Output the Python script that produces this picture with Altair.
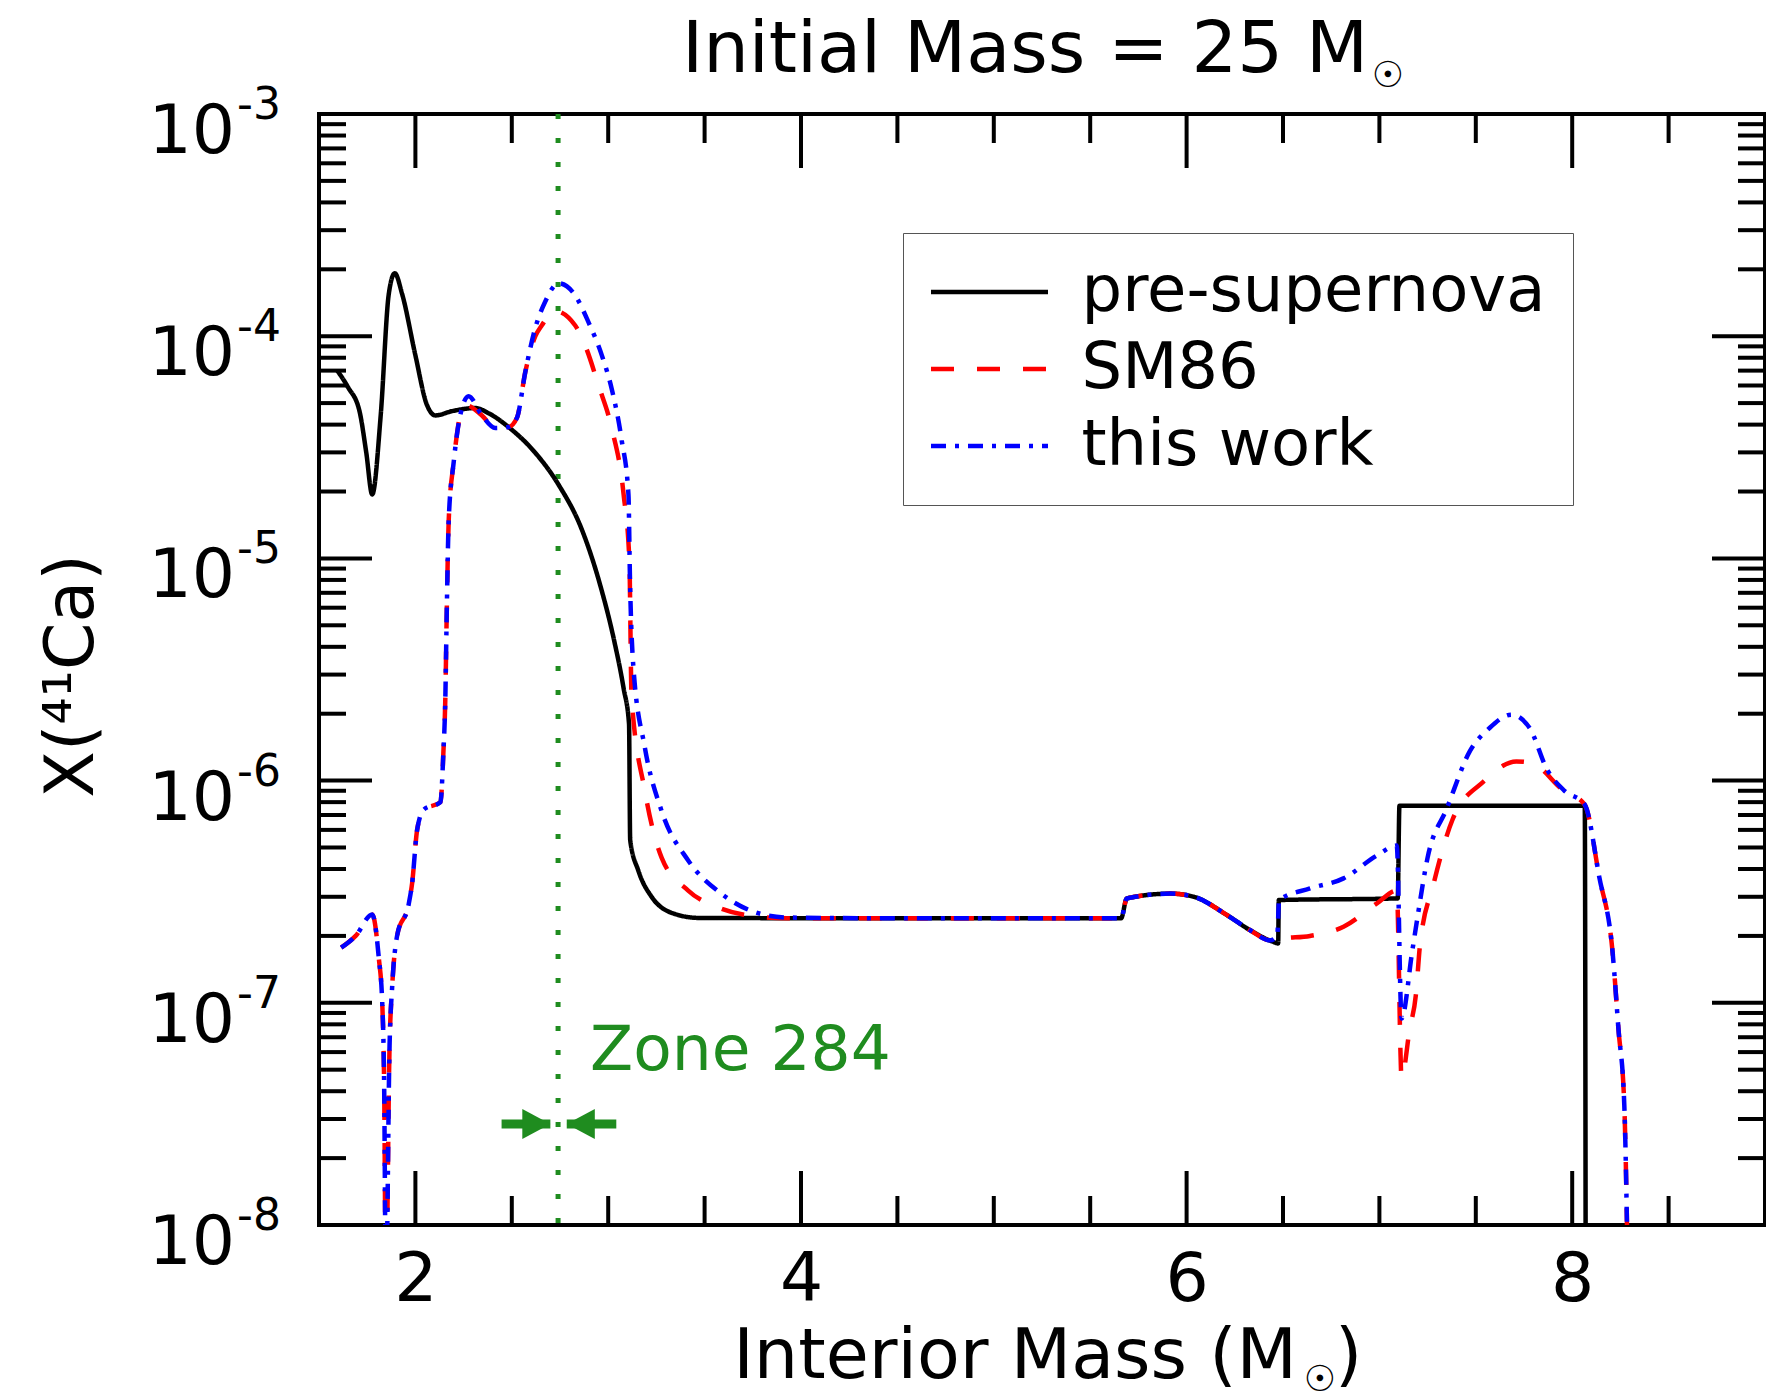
import altair as alt
import pandas as pd

# ---------------- data ----------------
series_names = ["pre-supernova", "SM86", "this work"]
series_colors = ["#000000", "#ff0000", "#0000ff"]
series_dashes = [[1, 0], [23, 23], [15, 9, 4, 9]]

pre_x = [1.595, 1.65, 1.71, 1.745, 1.776, 1.82, 1.862, 1.893, 1.931, 2.0, 2.06, 2.104, 2.19,
         2.31, 2.38, 2.483, 2.62, 2.742, 2.863, 2.96, 3.03, 3.08, 3.108, 3.114, 3.156, 3.225,
         3.346, 3.47, 4.5, 5.66, 5.69, 5.917, 6.038, 6.21, 6.33, 6.45, 6.475, 6.478, 7.095,
         7.104, 8.065, 8.072]
pre_y = [7.0e-5, 5.9e-5, 4.6e-5, 3.0e-5, 1.94e-5, 4.4e-5, 1.55e-4, 1.92e-4, 1.55e-4, 8.2e-5,
         4.9e-5, 4.4e-5, 4.6e-5, 4.75e-5, 4.5e-5, 3.9e-5, 3.0e-5, 2.15e-5, 1.35e-5, 7.5e-6,
         4.3e-6, 2.6e-6, 1.8e-6, 5.4e-7, 3.94e-7, 3.0e-7, 2.51e-7, 2.41e-7, 2.4e-7, 2.4e-7,
         2.95e-7, 3.1e-7, 3.0e-7, 2.48e-7, 2.12e-7, 1.88e-7, 1.85e-7, 2.9e-7, 2.95e-7, 7.7e-7,
         7.7e-7, 1e-10]

sm_x = [1.615, 1.69, 1.776, 1.81, 1.828, 1.838, 1.847, 1.866, 1.88, 1.905, 1.966, 1.983, 2.009,
        2.043, 2.13, 2.145, 2.155, 2.163, 2.173, 2.199, 2.233, 2.26, 2.345, 2.414, 2.483, 2.527,
        2.57, 2.622, 2.656, 2.72, 2.828, 2.88, 2.95, 3.018, 3.08, 3.11, 3.121, 3.19, 3.277,
        3.415, 3.587, 3.76, 3.93, 4.5, 5.66, 5.69, 5.917, 6.038, 6.21, 6.33, 6.434, 6.5, 6.64,
        6.814, 6.987, 7.09, 7.115, 7.157, 7.19, 7.21, 7.28, 7.38, 7.54, 7.71, 7.79, 7.95, 8.065,
        8.14, 8.21, 8.24, 8.27, 8.29]
sm_y = [1.77e-7, 2.0e-7, 2.5e-7, 1.6e-7, 1.0e-7, 4.2e-8, 5e-9, 6.4e-8, 1.2e-7, 2.0e-7, 2.8e-7,
        3.45e-7, 6.0e-7, 7.4e-7, 8.0e-7, 1.33e-6, 2.3e-6, 6.0e-6, 1.5e-5, 2.73e-5, 4.43e-5,
        4.9e-5, 4.4e-5, 3.86e-5, 3.9e-5, 4.3e-5, 6.9e-5, 1.0e-4, 1.12e-4, 1.3e-4, 1.12e-4,
        9.1e-5, 6.0e-5, 3.86e-5, 1.94e-5, 9.7e-6, 2.4e-6, 9.0e-7, 4.5e-7, 3.2e-7, 2.65e-7,
        2.45e-7, 2.4e-7, 2.4e-7, 2.4e-7, 2.95e-7, 3.1e-7, 3.0e-7, 2.48e-7, 2.12e-7, 1.91e-7,
        1.95e-7, 2.0e-7, 2.2e-7, 2.8e-7, 3.2e-7, 4.6e-8, 7.6e-8, 1.1e-7, 1.8e-7, 3.4e-7,
        6.7e-7, 9.9e-7, 1.22e-6, 1.2e-6, 9.1e-7, 7.8e-7, 3.7e-7, 1.67e-7, 7.6e-8, 3.5e-8, 5e-9]

tw_x = [1.615, 1.69, 1.776, 1.81, 1.828, 1.838, 1.847, 1.866, 1.88, 1.905, 1.966, 1.983, 2.009,
        2.043, 2.13, 2.145, 2.155, 2.163, 2.173, 2.199, 2.233, 2.276, 2.345, 2.414, 2.483, 2.527,
        2.57, 2.622, 2.673, 2.742, 2.828, 2.897, 2.967, 3.018, 3.07, 3.105, 3.113, 3.13, 3.19,
        3.277, 3.415, 3.587, 3.76, 3.93, 4.5, 5.66, 5.69, 5.917, 6.038, 6.21, 6.33, 6.434, 6.47,
        6.48, 6.64, 6.814, 6.987, 7.09, 7.115, 7.17, 7.2, 7.25, 7.35, 7.47, 7.57, 7.685, 7.78,
        7.87, 7.96, 8.065, 8.14, 8.21, 8.24, 8.27, 8.29]
tw_y = [1.77e-7, 2.0e-7, 2.5e-7, 1.6e-7, 1.0e-7, 4.2e-8, 5e-9, 6.4e-8, 1.2e-7, 2.0e-7, 2.8e-7,
        3.45e-7, 6.0e-7, 7.4e-7, 8.0e-7, 1.33e-6, 2.3e-6, 6.0e-6, 1.5e-5, 2.73e-5, 4.43e-5,
        5.37e-5, 4.4e-5, 3.86e-5, 3.9e-5, 4.3e-5, 6.9e-5, 1.09e-4, 1.43e-4, 1.73e-4, 1.53e-4,
        1.16e-4, 8.2e-5, 5.8e-5, 3.4e-5, 1.94e-5, 8.0e-6, 3.3e-6, 1.41e-6, 7.3e-7, 4.37e-7,
        3.1e-7, 2.56e-7, 2.42e-7, 2.4e-7, 2.4e-7, 2.95e-7, 3.1e-7, 3.0e-7, 2.48e-7, 2.12e-7,
        1.91e-7, 2.0e-7, 2.9e-7, 3.27e-7, 3.63e-7, 4.6e-7, 5.1e-7, 8.5e-8, 1.7e-7, 2.5e-7,
        4.5e-7, 7.5e-7, 1.36e-6, 1.72e-6, 1.98e-6, 1.72e-6, 1.12e-6, 9.0e-7, 7.8e-7, 3.7e-7,
        1.67e-7, 7.6e-8, 3.5e-8, 5e-9]

# axis ticks and tick labels
x_major = [2, 4, 6, 8]
x_minor = [2.5, 3, 3.5, 4.5, 5, 5.5, 6.5, 7, 7.5, 8.5]
y_major = [1e-8, 1e-7, 1e-6, 1e-5, 1e-4, 1e-3]
y_label_base = ["10", "10", "10", "10", "10", "10"]
y_label_exp = ["-8", "-7", "-6", "-5", "-4", "-3"]
y_minor = [k * d for d in [1e-8, 1e-7, 1e-6, 1e-5, 1e-4] for k in [2, 3, 4, 5, 6, 7, 8, 9]]

# annotations
zone_x = [2.74]
zone_label = "Zone 284"
zone_label_x = [2.906]
zone_label_y = [5.0e-8]
arrow_y = [2.85e-8]
arrow_left = [2.447, 2.70]     # shaft start, tip
arrow_right = [3.042, 2.785]   # shaft start, tip

title_main = "Initial Mass = 25 M"
sun = "\u2609"
x_title_main = "Interior Mass (M"
x_title_end = ")"
y_title = "X(\u2074\u00b9Ca)"

# ---------------- layout ----------------
W, H = 1446, 1111
FONT = "DejaVu Sans"
GREEN = "#1f8c1f"

X_SCALE = alt.Scale(domain=[1.5, 9], nice=False, zero=False)
Y_SCALE = alt.Scale(type="log", domain=[1e-8, 1e-3], nice=False)

X_AXIS = alt.Axis(
    values=x_major, labelFontSize=68, labelFont=FONT, labelColor="black",
    labelPadding=75, labelBaseline="alphabetic", ticks=False, tickSize=0,
    domain=False, grid=False, title=None, format="d", labelFlush=False)


def X(field):
    return alt.X(field, scale=X_SCALE, axis=X_AXIS, title=None)


def Y(field):
    return alt.Y(field, scale=Y_SCALE, axis=None, title=None)


frames = []
for name, xs, ys in [(series_names[0], pre_x, pre_y), (series_names[1], sm_x, sm_y),
                     (series_names[2], tw_x, tw_y)]:
    assert len(xs) == len(ys), name
    frames.append(pd.DataFrame({"x": xs, "y": ys, "series": name}))
df = pd.concat(frames, ignore_index=True)

legend = alt.Legend(
    title=None, orient="none", legendX=584, legendY=119, direction="vertical",
    symbolType="M-3,0L3,0", symbolSize=1521, symbolStrokeWidth=4.5,
    symbolOffset=27.5, labelOffset=60, labelFontSize=64, labelFont=FONT,
    labelColor="black", rowPadding=13, padding=27, strokeColor="#555555",
    fillColor="white", labelLimit=0,
)

lines = alt.Chart(df).mark_line(clip=True, interpolate="monotone", strokeWidth=4.5).encode(
    x=X("x:Q"),
    y=Y("y:Q"),
    color=alt.Color("series:N", scale=alt.Scale(domain=series_names, range=series_colors),
                    legend=legend),
    strokeDash=alt.StrokeDash("series:N", scale=alt.Scale(domain=series_names, range=series_dashes),
                              legend=legend),
)


def tick_layer(vals, channel, length, side):
    d = pd.DataFrame({"v": vals})
    base = alt.Chart(d).mark_rule(color="black", strokeWidth=4)
    if channel == "x":
        enc = dict(x=X("v:Q"))
        if side == "bottom":
            enc.update(y=alt.value(H), y2=alt.value(H - length))
        else:
            enc.update(y=alt.value(0), y2=alt.value(length))
    else:
        enc = dict(y=Y("v:Q"))
        if side == "left":
            enc.update(x=alt.value(0), x2=alt.value(length))
        else:
            enc.update(x=alt.value(W), x2=alt.value(W - length))
    return base.encode(**enc)


ticks = [
    tick_layer(x_major, "x", 54, "bottom"), tick_layer(x_major, "x", 54, "top"),
    tick_layer(x_minor, "x", 29, "bottom"), tick_layer(x_minor, "x", 29, "top"),
    tick_layer(y_major, "y", 53, "left"), tick_layer(y_major, "y", 53, "right"),
    tick_layer(y_minor, "y", 27, "left"), tick_layer(y_minor, "y", 27, "right"),
]

ylab_df = pd.DataFrame({"v": y_major, "base": y_label_base, "exp": y_label_exp})
ylab_base = alt.Chart(ylab_df).mark_text(
    align="right", baseline="alphabetic", fontSize=68, font=FONT, color="black", dy=39).encode(
    y=Y("v:Q"), x=alt.value(-84), text="base:N")
ylab_exp = alt.Chart(ylab_df).mark_text(
    align="left", baseline="alphabetic", fontSize=44, font=FONT, color="black", dy=5).encode(
    y=Y("v:Q"), x=alt.value(-82), text="exp:N")

zone_rule = alt.Chart(pd.DataFrame({"x": zone_x})).mark_rule(
    color=GREEN, strokeWidth=5, strokeDash=[5, 19]).encode(x=X("x:Q"))

shafts = alt.Chart(pd.DataFrame({
    "x": [arrow_left[0], arrow_right[0]], "x2": [arrow_left[1], arrow_right[1]],
    "y": arrow_y * 2})).mark_rule(color=GREEN, strokeWidth=9).encode(
    x=X("x:Q"), x2="x2:Q", y=Y("y:Q"))

head_r = alt.Chart(pd.DataFrame({"x": [arrow_left[1]], "y": arrow_y})).mark_point(
    shape="M-1.87,-1L0,0L-1.87,1Z", filled=True, size=900, opacity=1, color=GREEN).encode(
    x=X("x:Q"), y=Y("y:Q"))
head_l = alt.Chart(pd.DataFrame({"x": [arrow_right[1]], "y": arrow_y})).mark_point(
    shape="M1.87,-1L0,0L1.87,1Z", filled=True, size=900, opacity=1, color=GREEN).encode(
    x=X("x:Q"), y=Y("y:Q"))

zone_text = alt.Chart(pd.DataFrame({"x": zone_label_x, "y": zone_label_y, "t": [zone_label]})).mark_text(
    align="left", baseline="alphabetic", fontSize=63, font=FONT, color=GREEN).encode(
    x=X("x:Q"), y=Y("y:Q"), text="t:N")


def label(text, x, y, size, align="left", baseline="alphabetic", angle=0):
    return alt.Chart(pd.DataFrame({"t": [text]})).mark_text(
        align=align, baseline=baseline, fontSize=size, font=FONT, color="black", angle=angle
    ).encode(x=alt.value(x), y=alt.value(y), text="t:N")


texts = [
    label(title_main, 1049, -42, 72, align="right"),
    label(sun, 1069, -38, 36, align="center", baseline="middle"),
    label(x_title_main, 978, 1264, 70, align="right"),
    label(sun, 1001, 1266, 36, align="center", baseline="middle"),
    label(x_title_end, 1016, 1264, 70, align="left"),
    label(y_title, -226, 562, 68, align="center", angle=270),
]

chart = alt.layer(*ticks, zone_rule, lines, shafts, head_r, head_l, zone_text,
                  ylab_base, ylab_exp, *texts).properties(
    width=W, height=H,
    autosize=alt.AutoSizeParams(type="none"),
    padding={"left": 319, "top": 114, "right": 1, "bottom": 173},
    background="white",
).configure(font=FONT).configure_view(stroke="black", strokeWidth=4)

chart.save("out.html", embed_options={"renderer": "svg", "actions": False})
